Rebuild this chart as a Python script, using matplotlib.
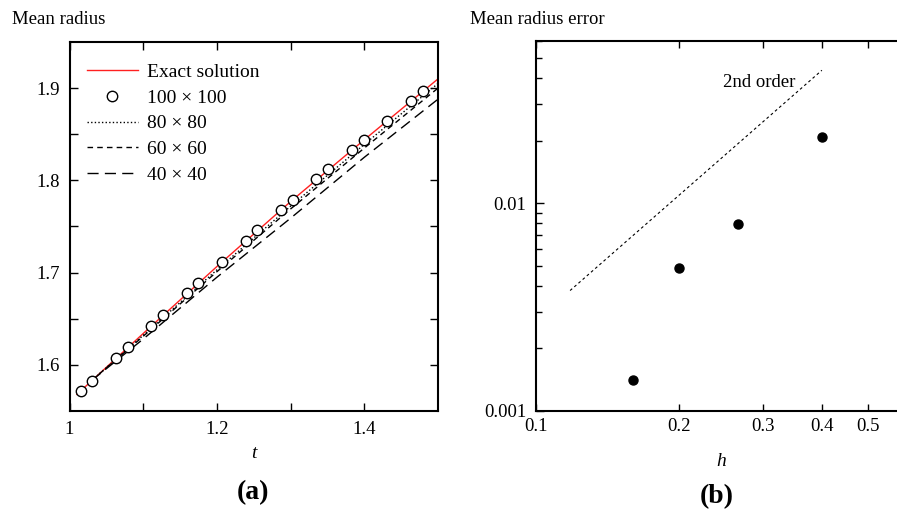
import matplotlib
matplotlib.use("Agg")
import matplotlib.pyplot as plt
import numpy as np
from matplotlib.ticker import FixedLocator, NullFormatter, LogLocator

plt.rcParams["font.family"] = ["Liberation Serif", "DejaVu Serif"]

# (a) mean radius vs time
t_exact = [1.01, 1.10, 1.20, 1.30, 1.40, 1.50]
r_exact = [1.568, 1.634, 1.7066, 1.777, 1.844, 1.910]

t_100 = [1.015, 1.031, 1.063, 1.079, 1.111, 1.127, 1.159, 1.175, 1.207, 1.239,
         1.2545, 1.287, 1.303, 1.335, 1.351, 1.383, 1.399, 1.431, 1.463, 1.479]
r_100 = [1.5717, 1.583, 1.607, 1.619, 1.6417, 1.6536, 1.6775, 1.689, 1.7116, 1.7348,
         1.7457, 1.768, 1.779, 1.801, 1.812, 1.833, 1.8435, 1.864, 1.886, 1.897]

t_num = [1.03, 1.10, 1.20, 1.30, 1.40, 1.50]
r_80 = [1.583, 1.632, 1.703, 1.772, 1.839, 1.905]
r_60 = [1.583, 1.631, 1.701, 1.769, 1.835, 1.900]
r_40 = [1.583, 1.628, 1.695, 1.759, 1.825, 1.888]

# (b) mean radius error vs grid spacing
h = [0.16, 0.2, 0.2667, 0.4]
err = [0.0014, 0.00487, 0.00793, 0.0207]
h_ref = [0.118, 0.4]
err_ref = [0.00379, 0.0436]

fig = plt.figure(figsize=(8.97, 5.12), dpi=100)
ax1 = fig.add_axes([0.0775, 0.1973, 0.4108, 0.7207])
ax2 = fig.add_axes([0.5975, 0.1979, 0.412, 0.7211])

ax1.plot(t_exact, r_exact, color="#ff2020", lw=1.0, label="Exact solution")
ax1.plot(t_100, r_100, "o", ms=7.5, mfc="white", mec="black", mew=1.0,
         label="100 × 100", zorder=5)
ax1.plot(t_num, r_80, color="black", lw=1.0, ls=(0, (1, 1.6)), label="80 × 80")
ax1.plot(t_num, r_60, color="black", lw=1.0, ls=(0, (4, 3)), label="60 × 60")
ax1.plot(t_num, r_40, color="black", lw=1.0, ls=(0, (8, 4.5)), label="40 × 40")

ax1.set_xlim(1.0, 1.5)
ax1.set_ylim(1.55, 1.95)
ax1.xaxis.set_major_locator(FixedLocator([1.0, 1.2, 1.4]))
ax1.xaxis.set_minor_locator(FixedLocator([1.1, 1.3]))
ax1.yaxis.set_major_locator(FixedLocator([1.6, 1.7, 1.8, 1.9]))
ax1.yaxis.set_minor_locator(FixedLocator([1.65, 1.75, 1.85]))
ax1.set_xticklabels(["1", "1.2", "1.4"])
ax1.set_xlabel("t", style="italic", fontsize=14, labelpad=5.5)

leg = ax1.legend(loc="upper left", frameon=False, fontsize=14,
                 handlelength=2.6, handletextpad=0.5, labelspacing=0.42,
                 borderaxespad=0.5, bbox_to_anchor=(0.0, 0.99))

ax2.loglog(h, err, "o", ms=6.5, color="black")
ax2.loglog(h_ref, err_ref, color="black", lw=0.8, ls=(0, (2.5, 2.5)))
ax2.text(0.351, 0.0382, "2nd order", fontsize=13.5, ha="right", va="center")
ax2.set_xlim(0.1, 0.6)
ax2.set_ylim(0.001, 0.06)
ax2.xaxis.set_major_locator(FixedLocator([0.1, 0.2, 0.3, 0.4, 0.5]))
ax2.xaxis.set_minor_locator(FixedLocator([]))
ax2.set_xticklabels(["0.1", "0.2", "0.3", "0.4", "0.5"])
ax2.yaxis.set_major_locator(FixedLocator([0.001, 0.01]))
ax2.yaxis.set_minor_locator(LogLocator(base=10, subs=np.arange(2, 10)))
ax2.yaxis.set_minor_formatter(NullFormatter())
ax2.set_yticklabels(["0.001", "0.01"])
ax2.set_xlabel("h", style="italic", fontsize=14, labelpad=13)

for ax in (ax1, ax2):
    for sp in ax.spines.values():
        sp.set_linewidth(1.5)
    ax.tick_params(which="both", direction="in", top=True, right=True,
                   labelsize=13.5, width=1.0)
    ax.tick_params(which="major", length=6, pad=7)
    ax.tick_params(which="minor", length=6)
ax2.tick_params(axis="y", which="minor", length=4)
ax2.tick_params(axis="x", which="major", length=5)
ax2.tick_params(axis="x", which="major", pad=5)

fig.text(12 / 897, 1 - 20 / 512, "Mean radius", fontsize=13.5, va="center", ha="left")
fig.text(470 / 897, 1 - 20 / 512, "Mean radius error", fontsize=13.5, va="center", ha="left")
fig.text(253 / 897, 1 - 493 / 512, "(a)", fontsize=20, weight="bold", ha="center", va="center")
fig.text(717 / 897, 1 - 497 / 512, "(b)", fontsize=20, weight="bold", ha="center", va="center")

fig.savefig("out.png", dpi=100)
plt.close(fig)
